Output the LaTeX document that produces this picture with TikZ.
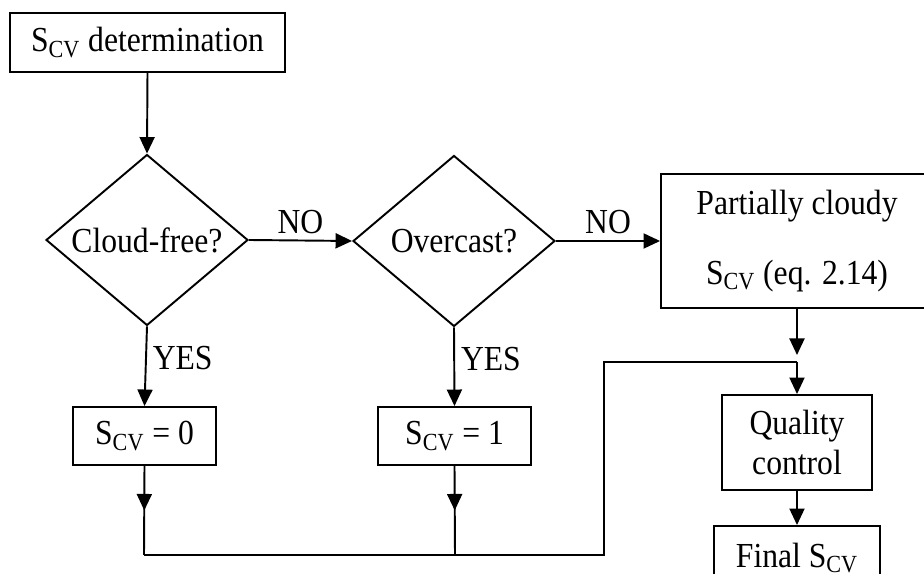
\documentclass[tikz,border=0pt]{standalone}
\usepackage{fontspec}
\setmainfont[FakeStretch=0.9]{Liberation Serif}
\usetikzlibrary{arrows.meta,shapes.geometric,decorations.markings}
\tikzset{
  >={Triangle[length=3.3mm, width=3mm]},
  linea/.style={line width=1.1pt},
  caja/.style={draw, linea, inner sep=0pt, align=center},
  rombo/.style={draw, linea, diamond, aspect=1.18, inner sep=0pt,
    minimum width=4.04cm, minimum height=3.42cm},
  flechamedio/.style={linea, postaction={decorate},
    decoration={markings, mark=at position 0.5 with {\arrow{>}}}},
}

\begin{document}
\begin{tikzpicture}[x=0.02cm, y=0.02cm, font=\fontsize{20}{23}\selectfont]
  \useasboundingbox (0,0) rectangle (924,574);
  \clip (0,0) rectangle (924,574);
  \node[caja, minimum width=5.5cm, minimum height=1.18cm] (inicio) at (147.5,531.5) {S\textsubscript{CV} determination};
  \node[rombo] (libre) at (147,334) {Cloud-free?};
  \node[rombo] (cubierto) at (454,333) {Overcast?};
  \node[caja, minimum width=5.44cm, minimum height=2.68cm] (parcial) at (797,333) {Partially cloudy\\[0.58cm] S\textsubscript{CV} (eq. 2.14)};
  \node[caja, minimum width=2.86cm, minimum height=1.16cm] (cero) at (144.5,138) {S\textsubscript{CV} = 0};
  \node[caja, minimum width=3.06cm, minimum height=1.16cm] (uno) at (454.5,138) {S\textsubscript{CV} = 1};
  \node[caja, minimum width=3cm, minimum height=1.9cm] (calidad) at (797,131.5) {Quality\\control};
  \node[caja, minimum width=3.32cm, minimum height=1.28cm] (final) at (797,16) {Final S\textsubscript{CV}};
  % puntos de union del lazo
  \coordinate (j0) at (144,19);
  \coordinate (j1) at (455,19);
  \coordinate (esq) at (604,19);
  \coordinate (jq) at (797,212);
  \draw[linea,->] (inicio.south) -- (libre.north);
  \draw[linea,->] (libre.east) -- node[above]{NO} (cubierto.west);
  \draw[linea,->] (cubierto.east) -- node[above]{NO} (parcial.west);
  \draw[linea,->] (libre.south) -- node[right, pos=0.4]{YES} (cero.north);
  \draw[linea,->] (cubierto.south) -- node[right, pos=0.4]{YES} (uno.north);
  \draw[flechamedio] (cero.south) -- (j0);
  \draw[flechamedio] (uno.south) -- (j1);
  \draw[linea] (j0) -- (esq) |- (jq);
  \draw[linea,->,shorten >=1.4mm] (parcial.south) -- (jq);
  \draw[linea,->] (jq) -- (calidad.north);
  \draw[linea,->] (calidad.south) -- (final.north);
\end{tikzpicture}
\end{document}
